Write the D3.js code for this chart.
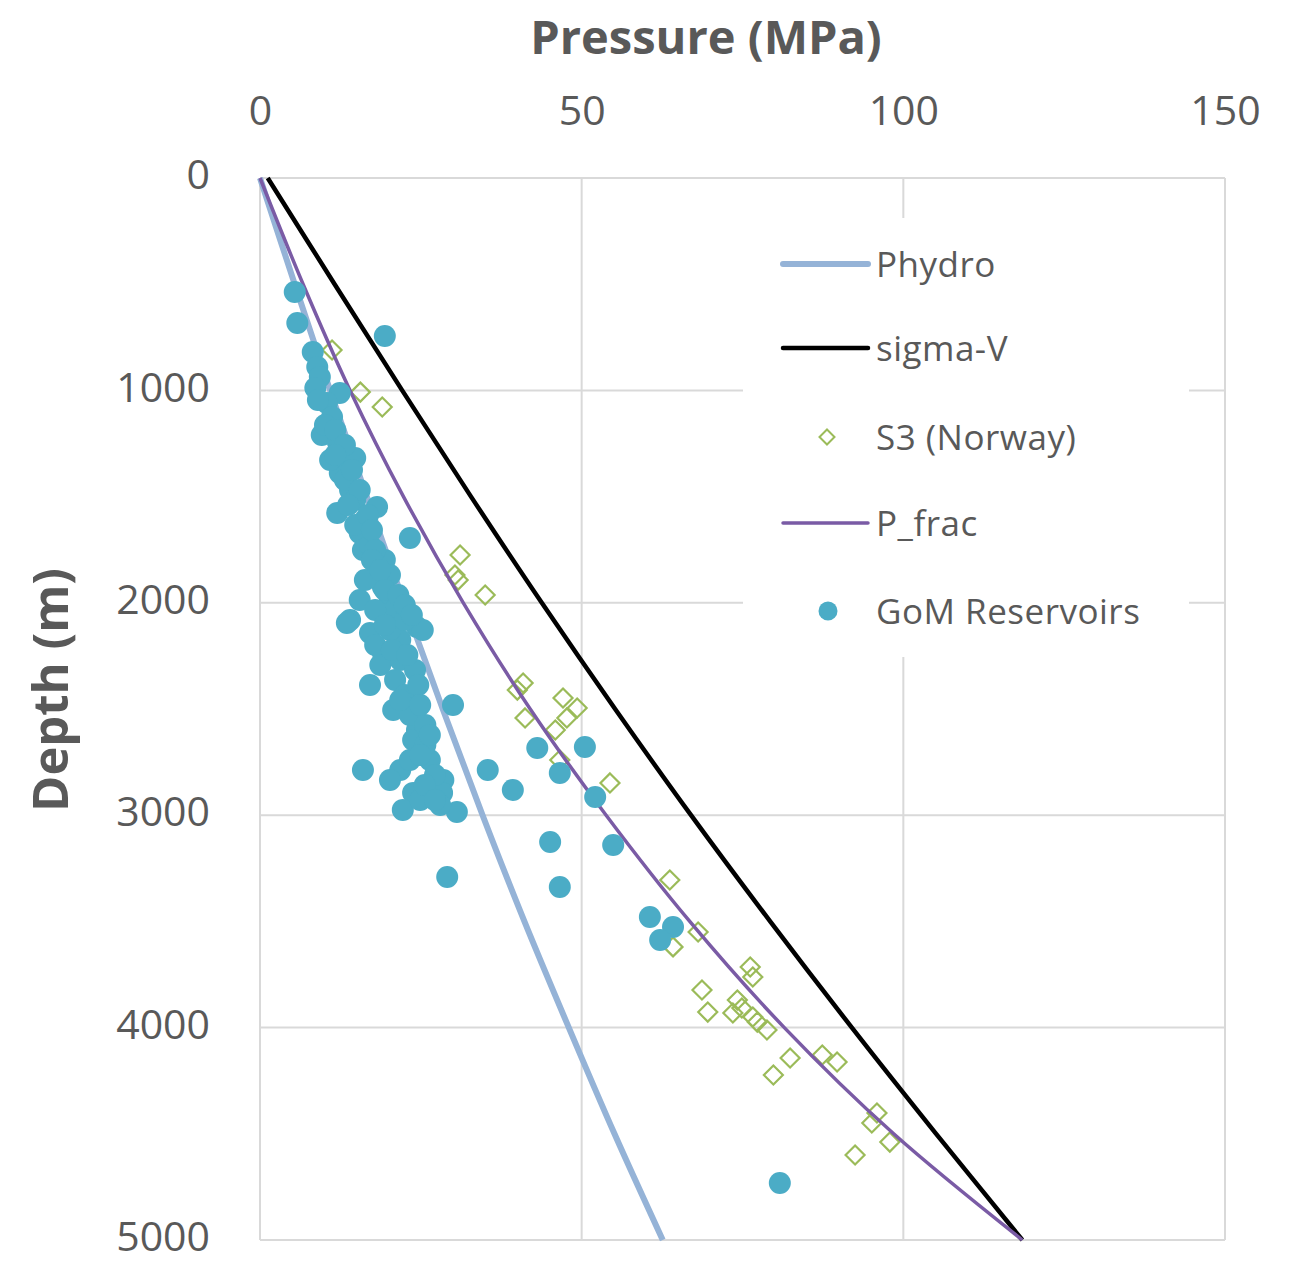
<!DOCTYPE html>
<html>
<head>
<meta charset="utf-8">
<script src="https://cdn.jsdelivr.net/npm/d3@7"></script>
<style>
  body { margin: 0; background: #fff; }
  text { font-family: "Open Sans", sans-serif; fill: #595959; }
</style>
</head>
<body>
<div id="chart"></div>
<script>
// depth levels (m) used for the three line series
const lineDepths = [0, 500, 1000, 1500, 2000, 2500, 3000, 3500, 4000, 4500, 5000];
// pressures (MPa) at those depths
const phydro = [0, 5.4, 10.9, 16.6, 22.4, 28.4, 34.6, 41.1, 48.0, 55.1, 62.6];
const sigmaV = [1.2, 11.6, 22.1, 32.8, 43.8, 55.2, 67.0, 79.3, 92.0, 105.1, 118.5];
const pFrac  = [0, 6.7, 14.0, 22.3, 31.6, 42.0, 53.8, 66.8, 81.5, 98.5, 118.5];

// S3 (Norway) points: pressure (MPa), depth (m)
const s3P = [11.2, 15.6, 19.0, 31.1, 30.3, 30.8, 35.0, 40.0, 40.9, 41.2, 47.1, 49.3, 47.7, 45.9, 46.6,
  54.4, 63.7, 68.1, 64.2, 76.2, 76.6, 68.7, 69.6, 74.2, 73.5, 74.9, 76.6, 77.3, 78.8, 82.4, 79.8,
  87.4, 89.7, 95.9, 95.1, 97.9, 92.5];
const s3D = [810, 1008, 1078, 1775, 1869, 1893, 1963, 2411, 2378, 2542, 2448, 2495, 2542, 2599, 2740,
  2848, 3305, 3550, 3620, 3715, 3762, 3823, 3927, 3870, 3931, 3908, 3950, 3974, 4011, 4143, 4223,
  4129, 4162, 4402, 4449, 4539, 4600];

// GoM Reservoirs points: pressure (MPa), depth (m)
const gomP = [5.4, 5.8, 19.4, 8.2, 8.9, 9.3, 8.6, 12.4, 10.4, 11.2, 9.6, 12.1, 13.5, 14.8, 12.4,
  14.0, 12.0, 18.2, 15.5, 23.3, 16.0, 18.2, 19.1, 20.2, 14.0, 24.4, 17.1, 21.8, 13.5, 20.2,
  25.3, 19.1, 17.1, 20.7, 30.0, 24.4, 23.8, 26.4, 16.0, 21.8, 20.2, 28.5, 35.4, 23.8, 28.3,
  39.3, 22.2, 30.6, 43.1, 50.5, 46.6, 52.1, 45.1, 54.9, 29.1, 46.6, 60.6, 64.2, 62.2, 80.8,
  10.9, 13.2, 14.8, 16.3, 17.1, 19.4, 20.2, 21.0, 22.5, 18.7, 21.0, 22.5, 23.3, 25.7, 25.7,
  27.2, 23.3, 24.9, 28.0, 15.5, 16.3, 17.9, 21.8, 24.1, 14.8,
  9.0, 10.1, 11.7, 13.2, 11.7, 14.3, 15.5, 13.7, 16.8, 17.4, 17.9, 17.4, 18.7, 19.4, 21.5,
  22.5, 23.6, 19.4, 17.9, 20.5, 22.9, 24.6, 21.8, 24.9, 26.4, 24.9, 25.6, 27.2];
const gomD = [537, 683, 744, 819, 890, 937, 989, 1012, 1059, 1125, 1210, 1243, 1314, 1318, 1389,
  1469, 1577, 1549, 1671, 1695, 1751, 1831, 1926, 1987, 2081, 2114, 2142, 2175, 2095, 2128,
  2128, 2236, 2387, 2505, 2481, 2599, 2646, 2740, 2787, 2787, 2834, 2834, 2787, 2895, 2895,
  2881, 2975, 2985, 2684, 2679, 2801, 2914, 3126, 3140, 3291, 3338, 3479, 3526, 3588, 4732,
  1328, 1422, 1516, 1610, 1728, 1798, 1869, 2034, 2081, 2293, 2363, 2434, 2528, 2575, 2669,
  2811, 2740, 2928, 2952, 1987, 1893, 2034, 2269, 2316, 1634,
  1045, 1163, 1186, 1257, 1304, 1375, 1469, 1540, 1587, 1657, 1751, 1798, 1846, 1940, 1963,
  2010, 2057, 2104, 2199, 2222, 2246, 2387, 2458, 2481, 2622, 2717, 2858, 2928];

const xTicks = [0, 50, 100, 150];
const yTicks = [0, 1000, 2000, 3000, 4000, 5000];
const legendNames = ["Phydro", "sigma-V", "S3 (Norway)", "P_frac", "GoM Reservoirs"];

const W = 1291, H = 1261;
const margin = { top: 178, right: 66, bottom: 21, left: 260 };
const width = W - margin.left - margin.right;
const height = H - margin.top - margin.bottom;

const svg = d3.select("#chart").append("svg")
    .attr("width", W)
    .attr("height", H);
const g = svg.append("g")
    .attr("transform", "translate(" + margin.left + "," + margin.top + ")");

const x = d3.scaleLinear().domain([0, 150]).range([0, width]);
const y = d3.scaleLinear().domain([0, 5000]).range([0, height]);

// gridlines (including the plot border)
g.selectAll(".vgrid").data(xTicks).enter().append("line")
    .attr("x1", d => x(d)).attr("x2", d => x(d))
    .attr("y1", 0).attr("y2", height)
    .attr("stroke", "#d9d9d9").attr("stroke-width", 2);
g.selectAll(".hgrid").data(yTicks).enter().append("line")
    .attr("x1", 0).attr("x2", width)
    .attr("y1", d => y(d)).attr("y2", d => y(d))
    .attr("stroke", "#d9d9d9").attr("stroke-width", 2);

// axes: labels only
const xAxis = g.append("g")
    .call(d3.axisTop(x).tickValues(xTicks).tickSize(0).tickPadding(53));
const yAxis = g.append("g")
    .call(d3.axisLeft(y).tickValues(yTicks).tickSize(0).tickPadding(50).tickFormat(d3.format("d")));
[xAxis, yAxis].forEach(a => {
    a.select(".domain").remove();
    a.selectAll("text")
        .style("font-family", "'Open Sans', sans-serif")
        .style("font-size", "41px")
        .attr("fill", "#595959");
});
yAxis.selectAll("text").attr("dy", "0.26em");

// axis titles
svg.append("text")
    .attr("x", 706).attr("y", 54)
    .attr("text-anchor", "middle")
    .style("font-size", "47px").style("font-weight", "bold")
    .text("Pressure (MPa)");
svg.append("text")
    .attr("transform", "translate(68,690) rotate(-90)")
    .attr("text-anchor", "middle")
    .style("font-size", "49px").style("font-weight", "bold")
    .text("Depth (m)");

// line series
function drawLine(values, color, w) {
    const line = d3.line()
        .x(d => x(d[0]))
        .y(d => y(d[1]))
        .curve(d3.curveCatmullRom.alpha(0.5));
    g.append("path")
        .datum(values.map((v, i) => [v, lineDepths[i]]))
        .attr("fill", "none")
        .attr("stroke", color)
        .attr("stroke-width", w)
        .attr("d", line);
}
drawLine(phydro, "#95b3d7", 6);
drawLine(sigmaV, "#000000", 4.5);

// S3 diamonds
function diamondPath(r) {
    return "M0," + (-r) + "L" + r + ",0L0," + r + "L" + (-r) + ",0Z";
}
g.selectAll(".s3").data(s3P).enter().append("path")
    .attr("d", diamondPath(9.5))
    .attr("transform", (d, i) => "translate(" + x(d) + "," + y(s3D[i]) + ")")
    .attr("fill", "none")
    .attr("stroke", "#9bbb59")
    .attr("stroke-width", 2.2);

drawLine(pFrac, "#7a5ba5", 3.5);

// GoM dots
g.selectAll(".gom").data(gomP).enter().append("circle")
    .attr("cx", d => x(d))
    .attr("cy", (d, i) => y(gomD[i]))
    .attr("r", 11)
    .attr("fill", "#4bacc6");

// legend
const legend = svg.append("g");
legend.append("rect")
    .attr("x", 743).attr("y", 218)
    .attr("width", 446).attr("height", 439)
    .attr("fill", "#fff");
const rows = [264, 348, 437, 523, 611];
const styles = [
    { kind: "line", color: "#95b3d7", w: 6 },
    { kind: "line", color: "#000000", w: 4.5 },
    { kind: "diamond" },
    { kind: "line", color: "#7a5ba5", w: 3.5 },
    { kind: "dot" }
];
legendNames.forEach((name, i) => {
    const s = styles[i], ly = rows[i];
    if (s.kind === "line") {
        legend.append("line")
            .attr("x1", 783).attr("x2", 868)
            .attr("y1", ly).attr("y2", ly)
            .attr("stroke", s.color).attr("stroke-width", s.w)
            .attr("stroke-linecap", "round");
    } else if (s.kind === "diamond") {
        legend.append("path")
            .attr("d", diamondPath(7.5))
            .attr("transform", "translate(827," + ly + ")")
            .attr("fill", "none").attr("stroke", "#9bbb59").attr("stroke-width", 2);
    } else {
        legend.append("circle")
            .attr("cx", 828).attr("cy", ly).attr("r", 9.5)
            .attr("fill", "#4bacc6");
    }
    legend.append("text")
        .attr("x", 876).attr("y", ly)
        .attr("dy", "0.36em")
        .style("font-size", "35px")
        .style("letter-spacing", "0.5px")
        .text(name);
});
</script>
</body>
</html>
